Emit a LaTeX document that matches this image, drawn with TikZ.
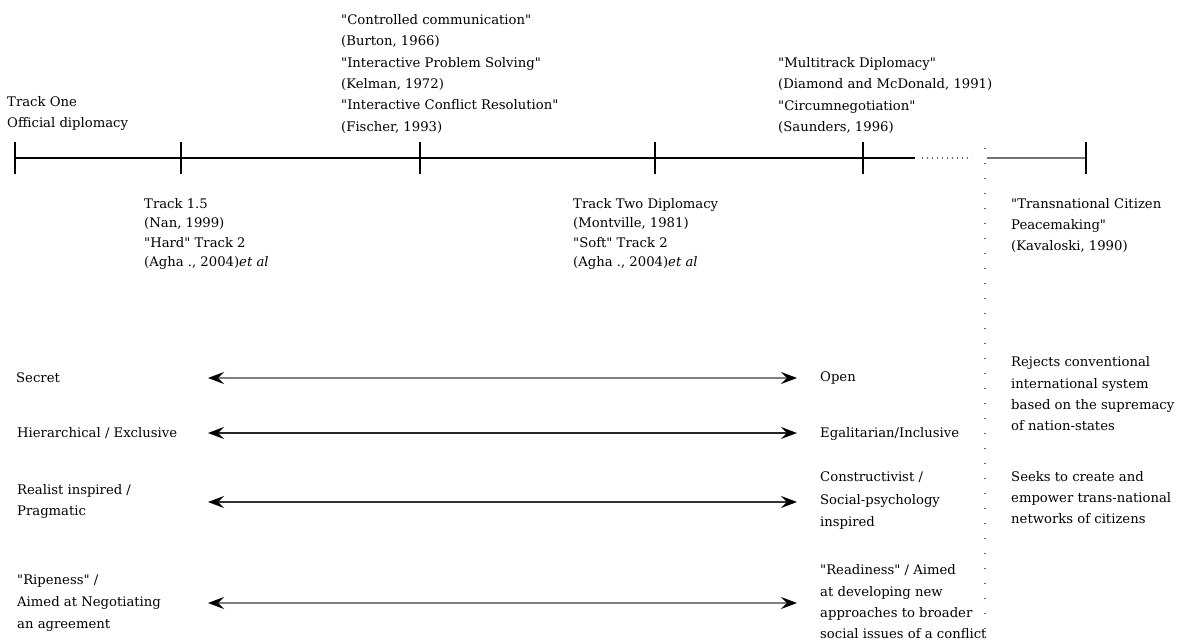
\documentclass[tikz,border=0pt]{standalone}
\usepackage{fontspec}
\setmainfont{DejaVu Serif}
\usetikzlibrary{arrows.meta}
\newcommand\tp{\rule{0pt}{12pt}}
\newcommand\qq{\textquotedbl}
\begin{document}
\begin{tikzpicture}[x=1pt,y=-1pt,
  txt/.style={anchor=north west, inner sep=0pt, align=left, font=\fontsize{13.2}{#1}\selectfont},
  txt/.default=21.3,
  axis/.style={line width=1.3pt, black},
  tick/.style={line width=1.3pt, black},
  dots/.style={line width=1.3pt, black!60, dash pattern=on 1.3pt off 3.7pt},
  vdots/.style={line width=1.3pt, black!60, dash pattern=on 1.3pt off 13.7pt},
  grayaxis/.style={line width=2.2pt, black!55},
  twoway/.style={line width=1.6pt, {Stealth[length=16pt,width=12pt,inset=6pt,color=black]}-{Stealth[length=16pt,width=12pt,inset=6pt,color=black]}},
]
\useasboundingbox (0,0) rectangle (1179,642);
\fill[white] (0,0) rectangle (1179,642);

% ---------- timeline ----------
\coordinate (t0) at (15,158);
\coordinate (t1) at (181,158);
\coordinate (t2) at (420,158);
\coordinate (t3) at (655,158);
\coordinate (t4) at (863,158);
\coordinate (tend) at (915,158);
\coordinate (d0) at (922,158);
\coordinate (d1) at (972,158);
\coordinate (g0) at (987,158);
\coordinate (g1) at (1086,158);
\coordinate (v0) at (985,148);
\coordinate (v1) at (985,642);

\draw[axis] (t0) -- (tend);
\foreach \t in {t0,t1,t2,t3,t4}
  \draw[tick] ([yshift=-16pt]\t) -- ([yshift=16pt]\t);
\draw[dots] (d0) -- (d1);
\draw[grayaxis] (g0) -- (g1);
\draw[tick] ([yshift=-16pt]g1) -- ([yshift=16pt]g1);
\draw[vdots] (v0) -- (v1);

% ---------- upper labels ----------
\node[txt] (trackone) at (7,94) {\tp Track One\\Official diplomacy};
\node[txt=21.4] (controlled) at (341,12) {\tp \qq Controlled communication\qq\\(Burton, 1966)\\\qq Interactive Problem Solving\qq\\(Kelman, 1972)\\\qq Interactive Conflict Resolution\qq\\(Fischer, 1993)};
\node[txt=21.4] (multitrack) at (778,55) {\tp \qq Multitrack Diplomacy\qq\\(Diamond and McDonald, 1991)\\\qq Circumnegotiation\qq\\(Saunders, 1996)};

% ---------- lower labels ----------
\node[txt=19.5] (track15) at (144,196) {\tp Track 1.5\\(Nan, 1999)\\\qq Hard\qq\ Track 2\\(Agha ., 2004)\textit{et al}};
\node[txt=19.5] (tracktwo) at (573,196) {\tp Track Two Diplomacy\\(Montville, 1981)\\\qq Soft\qq\ Track 2\\(Agha ., 2004)\textit{et al}};
\node[txt] (transnational) at (1011,196) {\tp \qq Transnational Citizen\\Peacemaking\qq\\(Kavaloski, 1990)};

% ---------- arrow rows ----------
\coordinate (a1l) at (208,378); \coordinate (a1r) at (797,378);
\coordinate (a2l) at (208,433); \coordinate (a2r) at (797,433);
\coordinate (a3l) at (208,502); \coordinate (a3r) at (797,502);
\coordinate (a4l) at (208,603); \coordinate (a4r) at (797,603);

\draw[twoway, draw=black!50] (a1l) -- (a1r);
\draw[twoway, draw=black!85] (a2l) -- (a2r);
\draw[twoway, draw=black!80] (a3l) -- (a3r);
\draw[twoway, draw=black!50] (a4l) -- (a4r);

\node[txt] (secret) at (16,370) {\tp Secret};
\node[txt] (hier) at (17,425) {\tp Hierarchical / Exclusive};
\node[txt=21] (realist) at (17,482) {\tp Realist inspired /\\Pragmatic};
\node[txt=22] (ripeness) at (17,572) {\tp \qq Ripeness\qq\ /\\Aimed at Negotiating\\an agreement};

\node[txt] (open) at (820,369) {\tp Open};
\node[txt] (egal) at (820,425) {\tp Egalitarian/Inclusive};
\node[txt=22.5] (constr) at (820,469.5) {\tp Constructivist /\\Social-psychology\\inspired};
\node[txt] (readiness) at (820,562.5) {\tp \qq Readiness\qq\ / Aimed\\at developing new\\approaches to broader\\social issues of a conflict};

\node[txt] (rejects) at (1011,354.5) {\tp Rejects conventional\\international system\\based on the supremacy\\of nation-states};
\node[txt=21] (seeks) at (1011,469.5) {\tp Seeks to create and\\empower trans-national\\networks of citizens};
\end{tikzpicture}
\end{document}
